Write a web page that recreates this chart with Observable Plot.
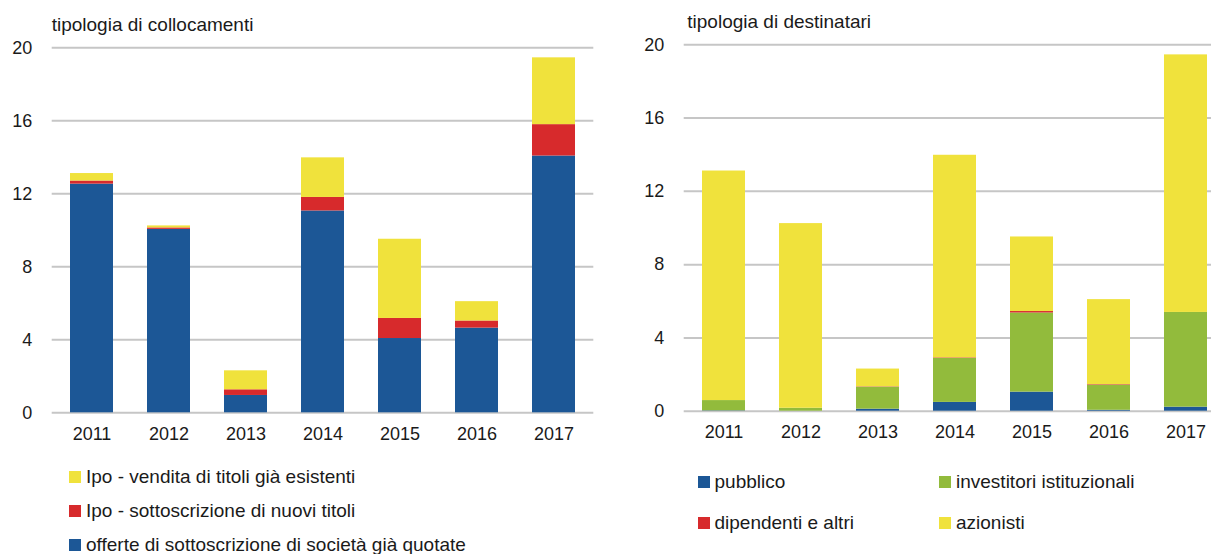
<!DOCTYPE html>
<html><head><meta charset="utf-8">
<script src="https://cdn.jsdelivr.net/npm/d3@7"></script>
<script src="https://cdn.jsdelivr.net/npm/@observablehq/plot@0.6"></script>
<style>
html,body{margin:0;padding:0;background:#fff;}
#wrap{position:relative;width:1211px;height:554px;overflow:hidden;font-family:"Liberation Sans",Arial,sans-serif;color:#1a1a1a;}
.panel{position:absolute;top:0;width:632px;}
.panel svg{max-width:none !important;}
.title{position:absolute;font-size:19px;line-height:19px;white-space:nowrap;}
.leg{position:absolute;font-size:19px;line-height:19px;white-space:nowrap;}
.sw{display:inline-block;width:12px;height:12px;margin-right:5px;}
</style></head><body><div id="wrap"></div>
<script>
// categories
const years = ["2011","2012","2013","2014","2015","2016","2017"];
const yTicks = [0,4,8,12,16,20];

// left panel: tipologia di collocamenti (bottom to top)
const leftTitle = "tipologia di collocamenti";
const leftSeries = [
  "offerte di sottoscrizione di società già quotate",
  "Ipo - sottoscrizione di nuovi titoli",
  "Ipo - vendita di titoli già esistenti"
];
const leftColors = ["#1c5796","#d72a2c","#f0e23c"];
const offerteQuotate = [12.53,10.05,0.95,11.06,4.07,4.64,14.07];
const ipoNuoviTitoli = [0.17,0.08,0.31,0.74,1.10,0.39,1.72];
const ipoVendita     = [0.41,0.11,1.04,2.17,4.34,1.06,3.66];

// right panel: tipologia di destinatari (bottom to top)
const rightTitle = "tipologia di destinatari";
const rightSeries = ["pubblico","investitori istituzionali","dipendenti e altri","azionisti"];
const rightColors = ["#1c5796","#92bb3c","#d72a2c","#f0e23c"];
const pubblico      = [0.02,0.00,0.11,0.48,1.04,0.05,0.22];
const istituzionali = [0.56,0.16,1.20,2.40,4.32,1.37,5.17];
const dipendenti    = [0.00,0.00,0.02,0.03,0.08,0.03,0.00];
const azionisti     = [12.53,10.08,0.97,11.06,4.07,4.64,14.06];

function toRows(series, valuesList) {
  const rows = [];
  series.forEach((s, i) => years.forEach((y, j) => rows.push({year: y, series: s, value: valuesList[i][j]})));
  return rows;
}

const FONT = '"Liberation Sans", Arial, sans-serif';
const W = 632;

function panel(rows, series, colors, marginTop, zeroY) {
  return Plot.plot({
    width: W, height: zeroY + 40,
    marginTop, marginBottom: 40, marginLeft: 51.7, marginRight: W - 593.3,
    x: {type: "band", domain: years, paddingInner: 0.44, paddingOuter: 0.214, label: null},
    y: {domain: [0, 20], label: null},
    color: {domain: series, range: colors},
    style: {fontFamily: FONT, fontSize: "18px", color: "#1a1a1a", background: "transparent", maxWidth: "none"},
    marks: [
      Plot.ruleY(yTicks, {stroke: "#c6c6c6", strokeWidth: 2}),
      Plot.barY(rows, {x: "year", y: "value", fill: "series"}),
      Plot.axisX({tickSize: 0, tickPadding: 14, label: null}),
      Plot.axisY({ticks: yTicks, tickSize: 0, tickPadding: 20, label: null})
    ]
  });
}

const wrap = document.getElementById("wrap");

function addPanel(svg, left) {
  const d = document.createElement("div");
  d.className = "panel";
  d.style.left = left + "px";
  d.appendChild(svg);
  wrap.appendChild(d);
}
function addText(cls, text, left, top) {
  const d = document.createElement("div");
  d.className = cls;
  d.style.left = left + "px";
  d.style.top = top + "px";
  d.textContent = text;
  wrap.appendChild(d);
  return d;
}
function addLegend(label, color, left, top) {
  const d = document.createElement("div");
  d.className = "leg";
  d.style.left = left + "px";
  d.style.top = top + "px";
  const sw = document.createElement("span");
  sw.className = "sw";
  sw.style.background = color;
  d.appendChild(sw);
  d.appendChild(document.createTextNode(label));
  wrap.appendChild(d);
}

addPanel(panel(toRows(leftSeries, [offerteQuotate, ipoNuoviTitoli, ipoVendita]), leftSeries, leftColors, 47.3, 412.3), 0);
addPanel(panel(toRows(rightSeries, [pubblico, istituzionali, dipendenti, azionisti]), rightSeries, rightColors, 44.3, 410.7), 631.6);

addText("title", leftTitle, 51.7, 14.5);
addText("title", rightTitle, 687.3, 12.2);

// left legend: top to bottom = reverse stack order
[2,1,0].forEach((k, r) => addLegend(leftSeries[k], leftColors[k], 69, 466.5 + r * 34));
// right legend: 2 columns x 2 rows
addLegend(rightSeries[0], rightColors[0], 697.5, 471.5);
addLegend(rightSeries[1], rightColors[1], 939, 471.5);
addLegend(rightSeries[2], rightColors[2], 697.5, 513);
addLegend(rightSeries[3], rightColors[3], 939, 513);
</script>
</body></html>
